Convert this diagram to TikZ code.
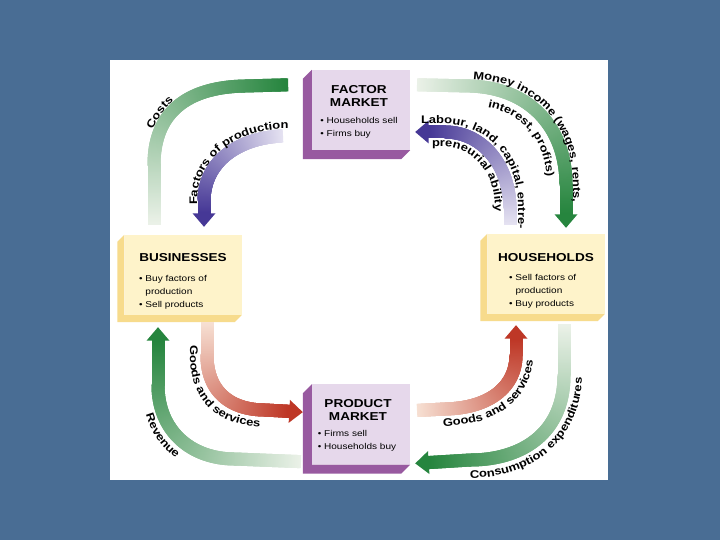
\documentclass[tikz,border=0pt]{standalone}
\usepackage{fontspec}
\setmainfont{Liberation Sans}[FakeStretch=1.18]
\usetikzlibrary{positioning,decorations.markings,decorations.text}

\definecolor{slidebg}{RGB}{73,109,148}
\definecolor{mktface}{RGB}{230,216,235}
\definecolor{mktside}{RGB}{152,90,160}
\definecolor{hhface}{RGB}{254,243,202}
\definecolor{hhside}{RGB}{247,219,140}
\definecolor{gtail}{RGB}{236,242,233}
\definecolor{ghead}{RGB}{38,133,62}
\definecolor{ptail}{RGB}{230,227,242}
\definecolor{phead}{RGB}{70,56,150}
\definecolor{rtail}{RGB}{247,225,212}
\definecolor{rhead}{RGB}{190,55,38}

\newcommand{\lblfont}{\fontsize{11}{13}\selectfont\bfseries}

\begin{document}
\begin{tikzpicture}[
        x=1pt, y=-1pt,
        mkt/.style={rectangle, fill=mktface, minimum width=98pt, minimum height=80pt, inner sep=0pt},
        agent/.style={rectangle, fill=hhface, minimum width=117pt, minimum height=80pt, inner sep=0pt},
        ttl/.style={font=\fontsize{11.5}{12.5}\selectfont\bfseries, align=center, inner sep=0pt},
        blt/.style={font=\fontsize{8.5}{13}\selectfont, align=left, inner sep=0pt},
        flow/.style 2 args={postaction={decorate, decoration={markings,
            mark=between positions 0 and 1 step 0.004 with {
                \pgfmathsetmacro\flowpct{min(100,0.4*\pgfkeysvalueof{/pgf/decoration/mark info/sequence number})}
                \fill[#2!\flowpct!#1] (-1.2,-6.5) rectangle (1.2,6.5);},
            mark=at position 1 with {\fill[#2] (-0.5,-11.5) -- (13,0) -- (-0.5,11.5) -- cycle;}}}},
        flowtext/.style 2 args={decorate, decoration={text along path, text={|\lblfont|#2}, text align={left indent=#1}}}
    ]
    \useasboundingbox (0,0) rectangle (720,540);
    \fill[slidebg] (0,0) rectangle (720,540);
    \fill[white] (110,60) rectangle (608,480);
    % Markets and agents
    \node[mkt] (factor) at (361,110) {};
    \node[mkt, below=234pt of factor] (prod) {};
    \node[agent] (biz) at (183,275) {};
    \node[agent] (hh) at (546,274) {};
    \foreach \b/\c/\d in {factor/mktside/9pt, prod/mktside/9pt, biz/hhside/7pt, hh/hhside/7pt}
        \fill[\c] (\b.north west) -- ([xshift=-\d,yshift=-\d]\b.north west) -- ([xshift=-\d,yshift=-\d]\b.south west)
            -- ([xshift=-\d,yshift=-\d]\b.south east) -- (\b.south east) -- (\b.south west) -- cycle;
    \node[ttl] (factor-t) at (359,96) {FACTOR\\MARKET};
    \node[blt] (factor-l) at (359,128) {• Households sell\\• Firms buy};
    \node[ttl] (prod-t) at (358,410) {PRODUCT\\MARKET};
    \node[blt] (prod-l) at (357,441) {• Firms sell\\• Households buy};
    \node[ttl] (biz-t) at (183,258) {BUSINESSES};
    \node[blt, anchor=west] (biz-l) at (139,292) {• Buy factors of\\\phantom{• }production\\• Sell products};
    \node[ttl] (hh-t) at (546,258) {HOUSEHOLDS};
    \node[blt, anchor=west] (hh-l) at (509,291) {• Sell factors of\\\phantom{• }production\\• Buy products};
    % Money flows (green), real flows (purple, red)
    \path[flow={gtail}{ghead}] ([xshift=-29pt,yshift=11pt]biz.north) -- (154,165)
        .. controls (154,110) and (190,87) .. (245,86) -- ([xshift=-24pt,yshift=-15pt]factor.north west);
    \path[flow={ptail}{phead}] ([xshift=-30pt,yshift=-26pt]factor.west)
        .. controls (240,138) and (205,160) .. (204,200) -- ([xshift=21pt,yshift=21pt]biz.north);
    \path[flow={gtail}{ghead}] ([xshift=8pt,yshift=-15pt]factor.north east) -- (470,86)
        .. controls (532,88) and (566,130) .. (566,185) -- ([xshift=20pt,yshift=19pt]hh.north);
    \path[flow={ptail}{phead}] ([xshift=-36pt,yshift=10pt]hh.north) -- (510,208)
        .. controls (509,162) and (480,132) .. (445,132) -- ([xshift=18pt,yshift=-22pt]factor.east);
    \path[flow={rtail}{rhead}] ([xshift=24pt,yshift=-8pt]biz.south) -- (207,355)
        .. controls (207,393) and (232,410) .. (265,410) -- ([xshift=-22pt,yshift=13pt]prod.west);
    \path[flow={gtail}{ghead}] ([xshift=-12pt,yshift=3pt]prod.south west) -- (235,459)
        .. controls (190,459) and (158,430) .. (158,385) -- ([xshift=-25pt,yshift=-25pt]biz.south);
    \path[flow={rtail}{rhead}] ([xshift=8pt,yshift=14pt]prod.east) -- (445,409)
        .. controls (492,408) and (516,385) .. (516,355) -- ([xshift=-30pt,yshift=-24pt]hh.south);
    \path[flow={gtail}{ghead}] ([xshift=18pt,yshift=-11pt]hh.south) -- (564,375)
        .. controls (564,435) and (520,460) .. (470,460) -- ([xshift=18pt,yshift=2pt]prod.south east);
    % Flow labels
    \path[flowtext={36pt}{Costs}] (147,165) .. controls (147,107) and (187,79) .. (245,79) -- (290,79);
    \path[flowtext={9pt}{Factors of production}] (197,214) -- (197,200) .. controls (198,157) and (236,131) .. (282,129) -- (300,129);
    \path[flowtext={55pt}{Money income (wages, rents,}] (418,78) -- (470,79) .. controls (538,81) and (573,127) .. (573,185) -- (573,245);
    \path[flowtext={70pt}{interest, profits)}] (418,104) -- (470,105) .. controls (522,107) and (547,140) .. (547,185) -- (547,230);
    \path[flowtext={3pt}{Labour, land, capital, entre-}] (418,124) -- (445,124) .. controls (485,124) and (518,156) .. (518,206) -- (518,245);
    \path[flowtext={4pt}{preneurial ability}] (428,147) -- (445,147) .. controls (470,147) and (495,170) .. (495,208) -- (495,240);
    \path[flowtext={22pt}{Goods and services}] (190,323) -- (190,355) .. controls (190,405) and (222,427) .. (265,427) -- (320,427);
    \path[flowtext={75pt}{Revenue}] (142,340) -- (142,385) .. controls (142,442) and (180,475) .. (235,475) -- (300,475);
    \path[flowtext={25pt}{Goods and services}] (418,426) -- (445,426) .. controls (505,425) and (533,392) .. (533,355) -- (533,310);
    \path[flowtext={42pt}{Consumption expenditures}] (428,478) -- (470,478) .. controls (532,478) and (582,440) .. (582,375) -- (582,310);
\end{tikzpicture}
\end{document}
